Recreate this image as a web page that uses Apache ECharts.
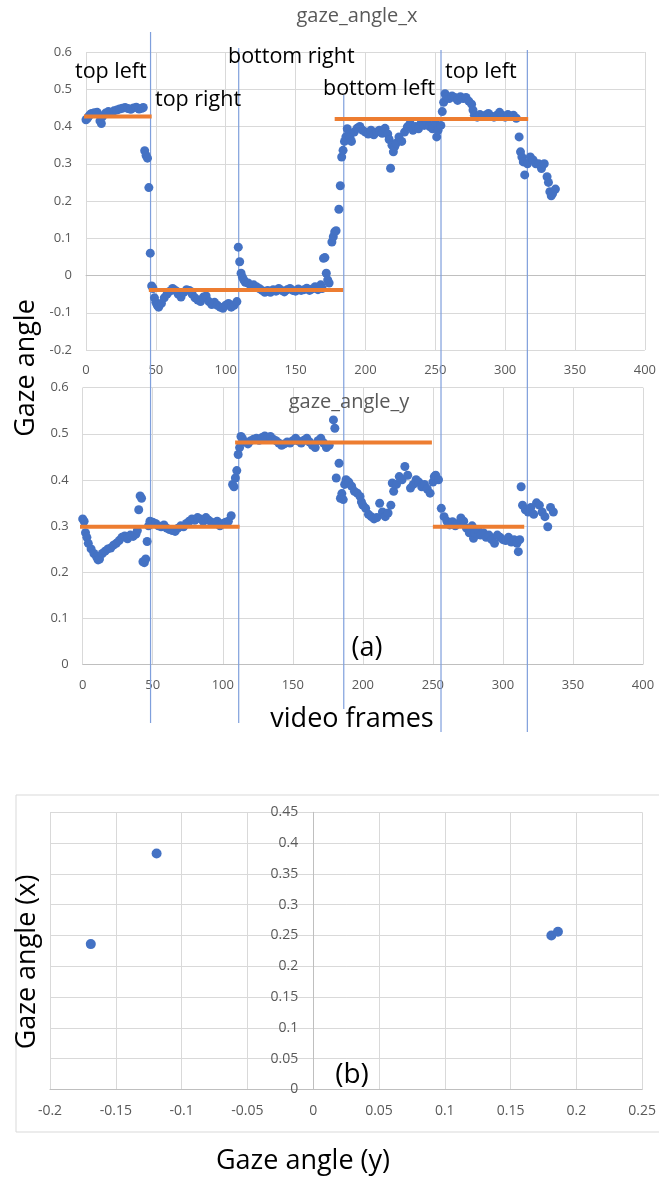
<!DOCTYPE html>
<html>
<head>
<meta charset="utf-8">
<script src="https://cdn.jsdelivr.net/npm/echarts@6/dist/echarts.min.js"></script>
<style>
  html, body { margin: 0; padding: 0; background: #fff; }
  #chart { width: 659px; height: 1179px; }
</style>
</head>
<body>
<div id="chart"></div>
<script>
// ---- data -------------------------------------------------------------
// gaze_angle_x per video frame: [frame, angle]
const gazeAngleX = [
  [0,0.418],[1,0.422],[2,0.428],[3,0.432],[4,0.435],[6,0.437],[8,0.438],[10,0.415],[11,0.408],
  [12,0.428],[14,0.436],[16,0.44],[18,0.437],[20,0.442],[22,0.444],[24,0.447],[26,0.449],
  [28,0.451],[30,0.448],[32,0.446],[34,0.45],[36,0.452],[38,0.447],[40,0.449],[41,0.451],
  [42,0.335],[43,0.322],[44,0.315],[45,0.236],[46,0.06],[47,-0.028],[48,-0.035],[49,-0.06],
  [50,-0.072],[51,-0.08],[52,-0.085],[54,-0.075],[56,-0.06],[58,-0.05],[60,-0.042],[62,-0.035],
  [64,-0.04],[66,-0.05],[68,-0.058],[70,-0.045],[72,-0.038],[74,-0.04],[76,-0.05],[78,-0.06],
  [80,-0.066],[82,-0.07],[84,-0.058],[86,-0.055],[88,-0.07],[90,-0.078],[92,-0.072],[94,-0.08],
  [96,-0.085],[98,-0.088],[100,-0.08],[102,-0.075],[104,-0.085],[106,-0.08],[108,-0.07],
  [109,0.076],[110,0.037],[111,0.006],[112,-0.005],[113,-0.012],[114,-0.018],[116,-0.02],
  [118,-0.028],[120,-0.025],[122,-0.03],[124,-0.035],[126,-0.04],[128,-0.045],[130,-0.04],
  [132,-0.045],[134,-0.038],[136,-0.042],[138,-0.035],[140,-0.04],[142,-0.044],[144,-0.038],
  [146,-0.035],[148,-0.04],[150,-0.042],[152,-0.036],[154,-0.04],[156,-0.038],[158,-0.034],
  [160,-0.04],[162,-0.036],[164,-0.03],[166,-0.038],[168,-0.025],[169,-0.035],[170,0.046],
  [171,0.048],[172,0.006],[173,-0.012],[174,-0.02],[176,0.09],[177,0.104],[178,0.117],[179,0.12],
  [181,0.178],[182,0.241],[183,0.318],[184,0.336],[185,0.36],[186,0.372],[187,0.394],[188,0.38],
  [189,0.37],[190,0.36],[192,0.385],[194,0.395],[196,0.4],[198,0.39],[200,0.385],[202,0.38],
  [204,0.39],[206,0.378],[208,0.385],[210,0.39],[212,0.382],[214,0.395],[216,0.38],[217,0.365],
  [218,0.288],[219,0.35],[220,0.332],[221,0.346],[222,0.355],[224,0.372],[226,0.36],[228,0.385],
  [230,0.399],[232,0.408],[234,0.39],[236,0.4],[238,0.394],[240,0.41],[242,0.403],[244,0.412],
  [246,0.4],[248,0.394],[250,0.41],[251,0.372],[252,0.39],[254,0.403],[255,0.44],[256,0.465],
  [257,0.488],[258,0.48],[260,0.475],[262,0.482],[264,0.478],[266,0.47],[268,0.48],[270,0.475],
  [272,0.478],[274,0.468],[276,0.46],[277,0.444],[278,0.43],[280,0.425],[282,0.432],[284,0.428],
  [286,0.43],[288,0.435],[290,0.428],[292,0.425],[294,0.43],[296,0.438],[298,0.43],[300,0.425],
  [302,0.432],[304,0.428],[306,0.43],[308,0.422],[310,0.372],[311,0.332],[312,0.318],[313,0.305],
  [314,0.27],[316,0.3],[318,0.318],[320,0.31],[322,0.3],[324,0.3],[326,0.287],[328,0.3],
  [330,0.265],[331,0.25],[332,0.225],[333,0.214],[334,0.22],[336,0.232]
];

// gaze_angle_y per video frame: [frame, angle]
const gazeAngleY = [
  [0,0.315],[1,0.31],[2,0.285],[3,0.275],[4,0.262],[6,0.25],[8,0.24],[10,0.232],[11,0.226],
  [12,0.228],[14,0.24],[16,0.245],[18,0.25],[20,0.252],[22,0.258],[24,0.262],[26,0.268],
  [28,0.275],[30,0.278],[32,0.272],[34,0.28],[36,0.277],[38,0.282],[39,0.29],[40,0.335],
  [41,0.365],[42,0.36],[43,0.222],[44,0.22],[45,0.228],[46,0.266],[47,0.3],[48,0.31],[50,0.308],
  [52,0.305],[54,0.3],[56,0.298],[58,0.302],[60,0.295],[62,0.292],[64,0.29],[66,0.288],[68,0.295],
  [70,0.3],[72,0.298],[74,0.305],[76,0.31],[78,0.315],[80,0.312],[82,0.318],[84,0.315],[86,0.31],
  [88,0.318],[90,0.312],[92,0.308],[94,0.305],[96,0.31],[98,0.3],[100,0.305],[102,0.308],
  [104,0.31],[106,0.322],[107,0.39],[108,0.385],[109,0.404],[110,0.42],[111,0.455],[112,0.47],
  [113,0.494],[114,0.49],[116,0.482],[118,0.478],[120,0.485],[122,0.488],[124,0.49],[126,0.486],
  [128,0.492],[130,0.495],[132,0.49],[134,0.494],[136,0.488],[138,0.485],[140,0.48],[142,0.475],
  [144,0.478],[146,0.482],[148,0.48],[150,0.485],[152,0.49],[154,0.484],[156,0.48],[158,0.486],
  [160,0.49],[162,0.482],[164,0.475],[166,0.47],[168,0.485],[170,0.49],[172,0.48],[174,0.47],
  [176,0.475],[179,0.53],[180,0.512],[181,0.404],[183,0.436],[184,0.36],[185,0.37],[186,0.357],
  [187,0.39],[188,0.4],[190,0.395],[192,0.386],[194,0.375],[196,0.371],[198,0.364],[199,0.352],
  [200,0.345],[202,0.338],[204,0.325],[206,0.32],[208,0.315],[210,0.318],[212,0.349],[214,0.33],
  [216,0.32],[218,0.328],[220,0.345],[221,0.393],[222,0.375],[224,0.39],[226,0.407],[228,0.4],
  [230,0.429],[232,0.41],[234,0.382],[236,0.39],[238,0.4],[240,0.395],[242,0.385],[244,0.39],
  [246,0.38],[248,0.371],[250,0.395],[251,0.407],[252,0.41],[254,0.4],[256,0.338],[258,0.32],
  [260,0.31],[262,0.302],[264,0.309],[266,0.3],[268,0.305],[270,0.317],[272,0.31],[274,0.295],
  [276,0.285],[278,0.3],[279,0.273],[280,0.285],[282,0.292],[284,0.28],[286,0.285],[288,0.275],
  [290,0.28],[292,0.27],[294,0.262],[296,0.28],[298,0.275],[300,0.27],[302,0.268],[304,0.275],
  [306,0.265],[308,0.27],[310,0.262],[311,0.244],[312,0.27],[313,0.385],[314,0.345],[316,0.335],
  [318,0.33],[320,0.34],[322,0.325],[324,0.35],[326,0.345],[328,0.33],[330,0.32],[332,0.298],
  [334,0.34],[336,0.33]
];

// mean angle of each fixation phase: [first frame, last frame, mean]
const meanX = [[-5, 47, 0.427], [45, 184, -0.039], [178, 316.5, 0.42]];
const meanY = [[-2.6, 112, 0.298], [108.8, 249.3, 0.481], [250, 315.2, 0.298]];

// phase boundaries (video frame) and the gaze target of each phase
const phaseBoundaries = [46.2, 109.3, 184.5, 254.1, 315.9];
const phaseLabels = ['top left', 'top right', 'bottom right', 'bottom left', 'top left'];

// (b): one point per gaze target, [gaze angle y, gaze angle x]
const targetPoints = [[-0.169, 0.236], [-0.119, 0.383], [0.181, 0.25], [0.186, 0.256]];

// ---- styling ------------------------------------------------------------
const FONT = '"Open Sans", "Noto Sans", sans-serif';
const BLUE = '#4472C4';
const ORANGE = '#ED7D31';
const GRID_C = '#d9d9d9';
const AXIS_C = '#bfbfbf';
const LABEL_C = '#595959';
const PHASE_LINE_C = '#7f9fdc';

const fmt = v => String(Math.round(v * 100) / 100);

function axis(gridIndex, min, max, interval, opts) {
  opts = opts || {};
  return {
    type: 'value', gridIndex, min, max, interval,
    axisLine: { show: !!opts.line, onZero: opts.onZero !== false, lineStyle: { color: AXIS_C, width: 1 } },
    axisTick: { show: false },
    splitLine: { show: true, lineStyle: { color: GRID_C, width: 1 } },
    axisLabel: {
      color: LABEL_C, fontFamily: FONT, fontSize: opts.fs || 13,
      margin: opts.margin || 14, formatter: fmt, showMinLabel: true, showMaxLabel: true
    }
  };
}

function meanSeries(segs, axisIndex) {
  return segs.map(s => ({
    type: 'line', xAxisIndex: axisIndex, yAxisIndex: axisIndex,
    data: [[s[0], s[2]], [s[1], s[2]]],
    showSymbol: false, symbol: 'none', clip: false, z: 4, silent: true,
    lineStyle: { color: ORANGE, width: 4 }, animation: false
  }));
}

const chart = echarts.init(document.getElementById('chart'), null, { renderer: 'canvas' });

const bGridLeft = 50;
const option = {
  animation: false,
  backgroundColor: '#fff',
  grid: [
    { left: 86, right: 14, top: 52, height: 298 },
    { left: 82.7, right: 16, top: 387.7, height: 276.3 },
    { left: bGridLeft, right: 13, top: 812.3, height: 277.2 }
  ],
  xAxis: [
    axis(0, 0, 400, 50, { line: true, margin: 14 }),
    axis(1, 0, 400, 50, { line: true, margin: 15 }),
    axis(2, -0.2, 0.25, 0.05, { line: true, onZero: false, margin: 15, fs: 14 })
  ],
  yAxis: [
    axis(0, -0.2, 0.6, 0.1, { margin: 14 }),
    axis(1, 0, 0.6, 0.1, { margin: 14 }),
    axis(2, 0, 0.45, 0.05, { line: true, onZero: false, margin: 15, fs: 14 })
  ],
  series: [
    {
      type: 'scatter', xAxisIndex: 0, yAxisIndex: 0, data: gazeAngleX,
      symbolSize: 9, itemStyle: { color: BLUE, opacity: 1 }, z: 3
    },
    ...meanSeries(meanX, 0),
    {
      type: 'scatter', xAxisIndex: 1, yAxisIndex: 1, data: gazeAngleY,
      symbolSize: 9, itemStyle: { color: BLUE, opacity: 1 }, z: 3
    },
    ...meanSeries(meanY, 1),
    {
      type: 'scatter', xAxisIndex: 2, yAxisIndex: 2, data: targetPoints,
      symbolSize: 10, itemStyle: { color: BLUE, opacity: 1 }, z: 3
    }
  ]
};
chart.setOption(option);

// In (b) the vertical axis (with its labels) crosses at gaze angle (y) = 0:
// shift it from the grid edge to where the x scale puts zero.
const zeroPx = chart.convertToPixel({ xAxisIndex: 2 }, 0);
chart.setOption({ yAxis: [{}, {}, { offset: -(zeroPx - bGridLeft) }] });

// ---- annotations ------------------------------------------------------
function text(str, x, y, size, color, opts) {
  opts = opts || {};
  return {
    type: 'text', x, y, rotation: opts.rotation || 0, z: 10, silent: true,
    style: {
      text: str, fill: color, fontFamily: FONT, fontSize: size,
      align: opts.align || 'center', verticalAlign: 'middle'
    }
  };
}

// vertical phase boundary lines spanning both time-series panels
const boundaryTop = [32, 48, 95, 50, 50];
const boundaryBottom = [723, 723, 709, 732, 732];
const boundaryLines = phaseBoundaries.map((f, i) => {
  const px = chart.convertToPixel({ xAxisIndex: 0 }, f);
  return {
    type: 'line', z: 1, silent: true,
    shape: { x1: px, y1: boundaryTop[i], x2: px, y2: boundaryBottom[i] },
    style: { stroke: PHASE_LINE_C, lineWidth: 1.2 }
  };
});

// gaze target labels above each phase (left edge, vertical centre)
const phaseLabelPos = [[75, 72], [155, 100], [228, 57], [323, 89], [445, 72]];
const phaseTexts = phaseLabels.map((t, i) =>
  text(t, phaseLabelPos[i][0], phaseLabelPos[i][1], 21.5, '#000', { align: 'left' }));

chart.setOption({
  graphic: [
    {
      type: 'rect', z: -1, silent: true,
      shape: { x: 16, y: 795, width: 700, height: 337 },
      style: { fill: 'none', stroke: GRID_C, lineWidth: 1 }
    },
    ...boundaryLines,
    ...phaseTexts,
    text('gaze_angle_x', 357, 16, 20, LABEL_C),
    text('gaze_angle_y', 349, 402, 20, LABEL_C),
    text('Gaze angle', 26, 368, 27, '#000', { rotation: Math.PI / 2 }),
    text('video frames', 352, 719, 27, '#000'),
    text('(a)', 367, 648, 27, '#000'),
    text('(b)', 352, 1075, 28, '#000'),
    text('Gaze angle (x)', 27, 962, 27, '#000', { rotation: Math.PI / 2 }),
    text('Gaze angle (y)', 303, 1161, 27, '#000')
  ]
});
</script>
</body>
</html>
